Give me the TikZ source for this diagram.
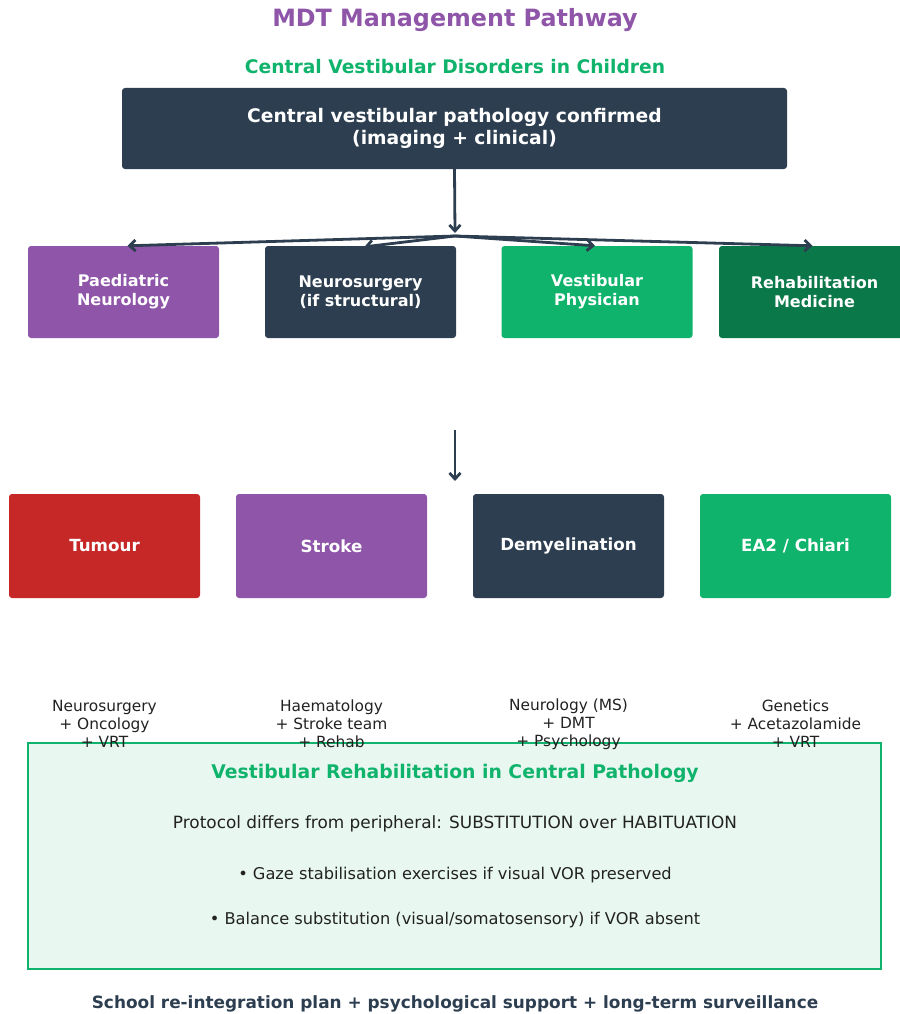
\documentclass[tikz,border=0pt]{standalone}
\usepackage{fontspec}
\setmainfont{DejaVu Sans}
\usetikzlibrary{arrows.meta}
\definecolor{dk}{HTML}{2C3E50}
\definecolor{pu}{HTML}{8E55A8}
\definecolor{gr}{HTML}{0FB36B}
\definecolor{dg}{HTML}{0A7849}
\definecolor{rd}{HTML}{C62828}
\definecolor{lg}{HTML}{E8F7F0}
\definecolor{tx}{HTML}{222222}
\tikzset{
  box/.style={rounded corners=3pt, minimum width=191pt, text=white, align=center, inner sep=0pt},
  rowa/.style={box, minimum height=92pt, font=\fontsize{16}{19}\selectfont\bfseries},
  rowb/.style={box, minimum height=104pt, font=\fontsize{16.7}{20}\selectfont\bfseries},
  lbl/.style={align=center, text=tx, font=\fontsize{15.4}{18}\selectfont},
  arr/.style={draw=dk, line width=2.8pt, -{Straight Barb[length=6pt,width=11pt]}}
}
\begin{document}
\begin{tikzpicture}[x=1pt,y=-1pt]
\useasboundingbox (0,0) rectangle (899,1014);
\node[text=pu, font=\fontsize{23.8}{28}\selectfont\bfseries] (title) at (455,20) {MDT Management Pathway};
\node[text=gr, font=\fontsize{18.7}{22}\selectfont\bfseries] (sub) at (455,67) {Central Vestibular Disorders in Children};
\node[box, fill=dk, minimum width=665pt, minimum height=81pt, font=\fontsize{18.7}{21.5}\selectfont\bfseries] (main) at (454.5,128.5) {Central vestibular pathology confirmed\\(imaging + clinical)};
\node[rowa, fill=pu] (pn) at (123.5,292) {Paediatric\\Neurology};
\node[rowa, fill=dk] (ns) at (360.5,292) {Neurosurgery\\(if structural)};
\node[rowa, fill=gr] (vp) at (597,292) {Vestibular\\Physician};
\node[rowa, fill=dg] (rm) at (814.5,292) {Rehabilitation\\Medicine};
\coordinate (hub) at (455,236);
\coordinate (hubt) at (455,233);
\draw[arr] (main.south) -- (hubt);
\draw[arr] (hub) -- ([xshift=4pt]pn.north);
\draw[arr] (hub) -- ([xshift=4pt,yshift=-1pt]ns.north);
\draw[arr] (hub) -- ([xshift=-2pt]vp.north);
\draw[arr] (hub) -- ([xshift=-2pt]rm.north);
\coordinate (a1) at (455,430);
\coordinate (a2) at (455,481);
\draw[arr] (a1) -- (a2);
\node[rowb, fill=rd] (tu) at (104.5,546) {Tumour};
\node[rowb, fill=pu] (st) at (331.5,546) {Stroke};
\node[rowb, fill=dk] (de) at (568.5,546) {Demyelination};
\node[rowb, fill=gr] (ea) at (795.5,546) {EA2 / Chiari};
\node[draw=gr, fill=lg, line width=2pt, minimum width=853pt, minimum height=226pt, inner sep=0pt] (rehab) at (454.5,856) {};
\node[lbl] (l1) at (104.5,724) {Neurosurgery\\+ Oncology\\+ VRT};
\node[lbl] (l2) at (331.5,724) {Haematology\\+ Stroke team\\+ Rehab};
\node[lbl] (l3) at (568.5,724) {Neurology (MS)\\+ DMT\\+ Psychology};
\node[lbl] (l4) at (795.5,724) {Genetics\\+ Acetazolamide\\+ VRT};
\node[text=gr, font=\fontsize{18.8}{22}\selectfont\bfseries] (rt) at (455,773) {Vestibular Rehabilitation in Central Pathology};
\node[text=tx, font=\fontsize{16.9}{20}\selectfont] (r1) at (455,824) {Protocol differs from peripheral: SUBSTITUTION over HABITUATION};
\node[text=tx, font=\fontsize{16.2}{19}\selectfont] (r2) at (455,875) {• Gaze stabilisation exercises if visual VOR preserved};
\node[text=tx, font=\fontsize{16.2}{19}\selectfont] (r3) at (455,920) {• Balance substitution (visual/somatosensory) if VOR absent};
\node[text=dk, font=\fontsize{16.9}{20}\selectfont\bfseries] (foot) at (455,1004) {School re-integration plan + psychological support + long-term surveillance};
\end{tikzpicture}
\end{document}
